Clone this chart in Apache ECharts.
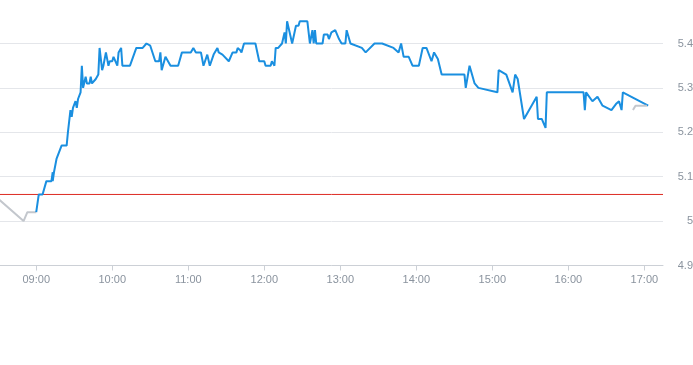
<!DOCTYPE html>
<html>
<head>
<meta charset="utf-8">
<script src="https://cdn.jsdelivr.net/npm/echarts@6/dist/echarts.min.js"></script>
<style>html,body{margin:0;padding:0;background:#fff}#c{width:693px;height:365px}</style>
</head>
<body>
<div id="c"></div>
<script>
// Pre-market (grey)
const preTimes  = ["08:30","08:50","08:53","09:00"];
const preValues = [5.05, 5.00, 5.02, 5.02];

// Regular session (blue)
const mainTimes = ["09:00","09:02","09:05","09:08","09:12","09:13","09:13","09:14","09:16","09:20",
"09:24","09:25","09:26","09:27","09:28","09:29","09:31","09:32","09:33","09:35",
"09:36","09:37","09:39","09:40","09:42","09:43","09:44","09:47","09:48","09:49",
"09:50","09:52","09:53","09:55","09:57","09:58","10:00","10:01","10:04","10:05",
"10:07","10:08","10:14","10:19","10:24","10:27","10:30","10:34","10:37","10:38",
"10:39","10:42","10:46","10:52","10:55","11:02","11:04","11:06","11:10","11:12",
"11:15","11:17","11:20","11:23","11:24","11:27","11:32","11:35","11:38","11:39",
"11:41","11:42","11:44","11:53","11:56","12:00","12:01","12:05","12:06","12:08",
"12:09","12:11","12:14","12:16","12:17","12:18","12:22","12:25","12:27","12:28",
"12:34","12:36","12:38","12:39","12:40","12:41","12:46","12:47","12:50","12:51",
"12:53","12:56","12:57","12:59","13:01","13:04","13:05","13:08","13:17","13:20",
"13:27","13:33","13:42","13:46","13:48","13:50","13:54","13:57","14:02","14:05",
"14:08","14:12","14:14","14:17","14:20","14:38","14:39","14:42","14:46","14:49",
"15:04","15:05","15:11","15:16","15:18","15:20","15:25","15:35","15:36","15:39",
"15:42","15:43","16:12","16:13","16:14","16:19","16:23","16:27","16:34","16:38",
"16:40","16:42","16:43","17:03"];
const mainValues = [5.02,5.06,5.06,5.09,5.09,5.11,5.09,5.11,5.14,5.17,
5.17,5.20,5.20,5.25,5.235,5.255,5.27,5.255,5.275,5.29,
5.35,5.30,5.325,5.31,5.31,5.325,5.31,5.32,5.32,5.33,
5.39,5.34,5.35,5.38,5.35,5.36,5.36,5.37,5.35,5.38,
5.39,5.35,5.35,5.39,5.39,5.40,5.395,5.36,5.36,5.38,
5.34,5.37,5.35,5.35,5.38,5.38,5.39,5.38,5.38,5.35,
5.375,5.35,5.375,5.39,5.38,5.375,5.36,5.38,5.38,5.39,
5.385,5.38,5.40,5.40,5.36,5.36,5.35,5.35,5.36,5.35,
5.39,5.39,5.40,5.425,5.40,5.45,5.40,5.44,5.44,5.45,
5.45,5.40,5.43,5.40,5.43,5.40,5.40,5.42,5.42,5.41,
5.425,5.43,5.43,5.41,5.40,5.40,5.43,5.40,5.39,5.38,
5.40,5.40,5.39,5.38,5.40,5.37,5.37,5.35,5.35,5.39,
5.39,5.36,5.38,5.365,5.33,5.33,5.30,5.35,5.31,5.30,
5.29,5.34,5.33,5.29,5.33,5.32,5.23,5.28,5.23,5.23,
5.21,5.29,5.29,5.25,5.29,5.27,5.28,5.26,5.25,5.265,
5.27,5.25,5.29,5.26];

// After-hours (grey)
const postTimes  = ["16:51","16:53","16:57","17:02"];
const postValues = [5.25, 5.26, 5.26, 5.26];

// Reference line (previous close)
const prevClose = 5.06;

// Axis ticks
const hourTicks = ["09:00","10:00","11:00","12:00","13:00","14:00","15:00","16:00","17:00"];

function toMin(t){ const p=t.split(":"); return (+p[0])*60 + (+p[1]); }
function pad(n){ return (n<10?"0":"")+n; }
function fmt(m){ m=Math.round(m); return pad(Math.floor(m/60))+":"+pad(m%60); }
function pairs(ts, vs){ return ts.map((t,i)=>[toMin(t), vs[i]]); }

const X_MIN = 511.4, X_MAX = 1034.7;
const tickMins = hourTicks.map(toMin);
const chart = echarts.init(document.getElementById('c'), null, {renderer:'canvas'});
chart.setOption({
  animation:false,
  grid:{left:0,right:30,top:43.5,bottom:99.5,containLabel:false,outerBoundsMode:'none'},
  xAxis:{
    type:'value', min:X_MIN, max:X_MAX,
    axisLine:{show:true,onZero:false,lineStyle:{color:'#ccd0d6',width:1}},
    axisTick:{show:true,length:5,lineStyle:{color:'#ccd0d6'},customValues:tickMins},
    axisLabel:{customValues:tickMins,formatter:v=>fmt(v),color:'#8a939e',fontSize:11,margin:9,fontFamily:'Liberation Sans, Arial, sans-serif'},
    splitLine:{show:false}
  },
  yAxis:{
    type:'value', position:'right', min:4.9, max:5.4, interval:0.1,
    axisLine:{show:false}, axisTick:{show:false},
    axisLabel:{align:'right',margin:30,color:'#8a939e',fontSize:11,fontFamily:'Liberation Sans, Arial, sans-serif',
      formatter:v=>String(Math.round(v*10)/10)},
    splitLine:{show:true,lineStyle:{color:'#e4e6ea',width:1}}
  },
  series:[
    {type:'line',data:[[X_MIN,prevClose],[X_MAX,prevClose]],showSymbol:false,symbol:'none',z:1,silent:true,
     lineStyle:{color:'#dd2a22',width:1},itemStyle:{color:'#dd2a22'}},
    {type:'line',data:pairs(preTimes,preValues),showSymbol:false,symbol:'none',clip:true,
     lineStyle:{color:'#c3c7cd',width:2},itemStyle:{color:'#c3c7cd'},z:2},
    {type:'line',data:pairs(mainTimes,mainValues),showSymbol:false,symbol:'none',clip:false,
     lineStyle:{color:'#1a8fe0',width:2},itemStyle:{color:'#1a8fe0'},z:3},
    {type:'line',data:pairs(postTimes,postValues),showSymbol:false,symbol:'none',clip:false,
     lineStyle:{color:'#c3c7cd',width:2},itemStyle:{color:'#c3c7cd'},z:4}
  ]
});
</script>
</body>
</html>
